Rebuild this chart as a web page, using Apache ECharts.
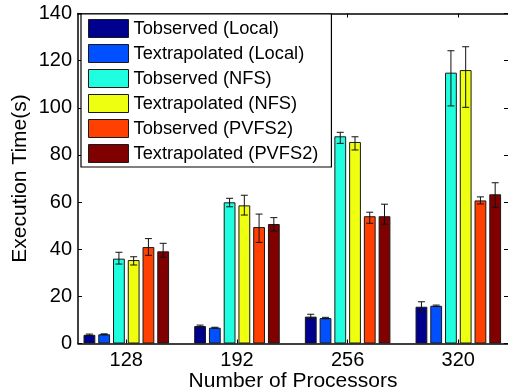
<!DOCTYPE html>
<html>
<head>
<meta charset="utf-8">
<script src="https://cdn.jsdelivr.net/npm/echarts@6/dist/echarts.min.js"></script>
<style>
html,body{margin:0;padding:0;background:#fff;}
#chart{width:508px;height:392px;}
</style>
</head>
<body>
<div id="chart"></div>
<script>
// ---- data ----
const categories = ['128', '192', '256', '320'];
const groupX = [1, 2, 3, 4];
const seriesNames = [
  'Tobserved (Local)', 'Textrapolated (Local)',
  'Tobserved (NFS)', 'Textrapolated (NFS)',
  'Tobserved (PVFS2)', 'Textrapolated (PVFS2)'
];
const tobsLocal      = [3.7, 7.4, 11.4, 15.6];
const textrapLocal   = [3.9, 6.7, 10.8, 16.0];
const tobsNFS        = [36.0, 59.9, 87.9, 114.9];
const textrapNFS     = [35.4, 58.6, 85.5, 116.0];
const tobsPVFS2      = [40.9, 49.4, 54.0, 60.7];
const textrapPVFS2   = [39.1, 50.7, 54.0, 63.3];
// error bar bounds (low / high)
const tobsLocalLow    = [3.4, 7.0, 10.2, 13.4];
const tobsLocalHigh   = [4.0, 7.8, 12.4, 17.7];
const textrapLocalLow = [3.7, 6.5, 10.5, 15.7];
const textrapLocalHigh= [4.1, 6.9, 11.1, 16.3];
const tobsNFSLow      = [33.7, 58.0, 84.9, 100.8];
const tobsNFSHigh     = [38.7, 61.6, 89.6, 124.2];
const textrapNFSLow   = [33.3, 54.5, 82.1, 100.2];
const textrapNFSHigh  = [36.8, 62.9, 87.7, 125.9];
const tobsPVFS2Low    = [37.4, 42.9, 51.0, 59.2];
const tobsPVFS2High   = [44.5, 54.9, 55.7, 62.2];
const textrapPVFS2Low = [36.6, 47.7, 50.6, 57.8];
const textrapPVFS2High= [42.5, 53.4, 59.1, 68.2];
const yTicks = [0, 20, 40, 60, 80, 100, 120, 140];

// ---- styling ----
const colors = ['#00008F', '#0050FF', '#1FFFDF', '#EFFF10', '#FF4000', '#800000'];
const FONT = '"Liberation Sans", Arial, Helvetica, sans-serif';
const BAR_W = 11.8;
const GAP_PCT = 25;
const PITCH = BAR_W * (1 + GAP_PCT / 100);

const values = [tobsLocal, textrapLocal, tobsNFS, textrapNFS, tobsPVFS2, textrapPVFS2];
const lows = [tobsLocalLow, textrapLocalLow, tobsNFSLow, textrapNFSLow, tobsPVFS2Low, textrapPVFS2Low];
const highs = [tobsLocalHigh, textrapLocalHigh, tobsNFSHigh, textrapNFSHigh, tobsPVFS2High, textrapPVFS2High];

const barSeries = seriesNames.map((name, si) => ({
  name: name,
  type: 'bar',
  xAxisIndex: 0,
  yAxisIndex: 0,
  barWidth: BAR_W,
  barGap: GAP_PCT + '%',
  itemStyle: { color: colors[si], borderColor: '#1a1a1a', borderWidth: 1 },
  emphasis: { disabled: true },
  data: groupX.map((x, gi) => [x, values[si][gi]]),
  z: 2
}));

const errData = [];
seriesNames.forEach((n, si) => {
  groupX.forEach((x, gi) => errData.push([x, si, lows[si][gi], highs[si][gi]]));
});

const errSeries = {
  type: 'custom',
  xAxisIndex: 0,
  yAxisIndex: 0,
  encode: { x: 0, y: [2, 3] },
  z: 5,
  silent: true,
  renderItem: function (params, api) {
    const gx = api.value(0), si = api.value(1), lo = api.value(2), hi = api.value(3);
    const pLo = api.coord([gx, lo]);
    const pHi = api.coord([gx, hi]);
    const x = pLo[0] + (si - 2.5) * PITCH;
    const cw = 3.5;
    const st = { stroke: '#111', lineWidth: 1 };
    return {
      type: 'group',
      children: [
        { type: 'line', shape: { x1: x, y1: pLo[1], x2: x, y2: pHi[1] }, style: st },
        { type: 'line', shape: { x1: x - cw, y1: pLo[1], x2: x + cw, y2: pLo[1] }, style: st },
        { type: 'line', shape: { x1: x - cw, y1: pHi[1], x2: x + cw, y2: pHi[1] }, style: st }
      ]
    };
  },
  data: errData
};

const X_MIN = 0.5636, X_MAX = 4.449;
const axisLineStyle = { color: '#000', width: 1.5 };

const option = {
  animation: false,
  backgroundColor: '#fff',
  textStyle: { fontFamily: FONT, color: '#000' },
  grid: { left: 78, right: 0, top: 13.5, bottom: 48.5, containLabel: false, outerBoundsMode: 'none' },
  legend: {
    orient: 'vertical',
    left: 81,
    top: 14,
    z: 10,
    padding: [5, 13, 4, 7],
    itemGap: 6.0,
    itemWidth: 40,
    itemHeight: 18,
    icon: 'rect',
    selectedMode: false,
    backgroundColor: '#fff',
    borderColor: '#000',
    borderWidth: 1.2,
    borderRadius: 0,
    itemStyle: { borderColor: '#1a1a1a', borderWidth: 1 },
    textStyle: { fontFamily: FONT, fontSize: 18.3, color: '#000' },
    data: seriesNames
  },
  xAxis: [
    {
      type: 'value',
      min: X_MIN, max: X_MAX,
      position: 'bottom',
      name: 'Number of Processors',
      nameLocation: 'middle',
      nameGap: 27,
      nameMoveOverlap: false,
      nameTextStyle: { fontFamily: FONT, fontSize: 21, color: '#000' },
      axisLine: { show: true, onZero: false, lineStyle: axisLineStyle },
      axisTick: { show: true, inside: true, length: 4, customValues: groupX, lineStyle: { color: '#000' } },
      axisLabel: {
        show: true, margin: 7, fontFamily: FONT, fontSize: 20, color: '#000',
        customValues: groupX,
        formatter: v => categories[Math.round(v) - 1]
      },
      splitLine: { show: false }
    },
    {
      type: 'value',
      min: X_MIN, max: X_MAX,
      position: 'top',
      axisLine: { show: true, onZero: false, lineStyle: axisLineStyle },
      axisTick: { show: true, inside: true, length: 4, customValues: groupX, lineStyle: { color: '#000' } },
      axisLabel: { show: false },
      splitLine: { show: false }
    }
  ],
  yAxis: [
    {
      type: 'value',
      min: 0, max: 140, interval: 20,
      position: 'left',
      name: 'Execution Time(s)',
      nameLocation: 'middle',
      nameGap: 47,
      nameMoveOverlap: false,
      nameTextStyle: { fontFamily: FONT, fontSize: 21, color: '#000' },
      axisLine: { show: true, onZero: false, lineStyle: axisLineStyle },
      axisTick: { show: true, inside: true, length: 4, lineStyle: { color: '#000' } },
      axisLabel: { margin: 6, fontFamily: FONT, fontSize: 20, color: '#000',
        customValues: yTicks },
      splitLine: { show: false }
    },
    {
      type: 'value',
      min: 0, max: 140, interval: 20,
      position: 'right',
      axisLine: { show: false },
      axisTick: { show: true, inside: true, length: 4, lineStyle: { color: '#000' } },
      axisLabel: { show: false },
      splitLine: { show: false }
    }
  ],
  series: barSeries.concat([errSeries])
};

const chart = echarts.init(document.getElementById('chart'), null, { renderer: 'canvas' });
chart.setOption(option);
</script>
</body>
</html>
